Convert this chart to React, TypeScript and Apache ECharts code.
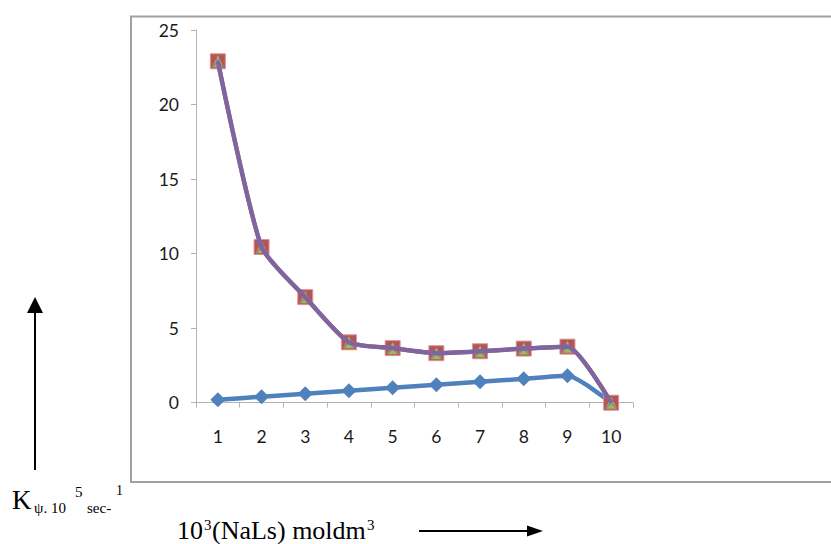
import React, { useEffect, useRef } from "react";
import * as echarts from "echarts";

const categories = ["1", "2", "3", "4", "5", "6", "7", "8", "9", "10"];
const seriesBlue = [0.2, 0.4, 0.6, 0.8, 1.0, 1.2, 1.4, 1.6, 1.8, 0];
const seriesRed = [22.9, 10.45, 7.08, 4.05, 3.66, 3.32, 3.45, 3.63, 3.76, 0];
const seriesGreen = [22.9, 10.45, 7.08, 4.05, 3.66, 3.32, 3.45, 3.63, 3.76, 0];
const seriesPurple = [22.9, 10.45, 7.08, 4.05, 3.66, 3.32, 3.45, 3.63, 3.76, 0];
const yTicks = [0, 5, 10, 15, 20, 25];

const xMarker =
  "path://M0,0 L2,0 L10,8 L18,0 L20,0 L20,2 L12,10 L20,18 L20,20 L18,20 L10,12 L2,20 L0,20 L0,18 L8,10 L0,2 Z";

export default function App() {
  const ref = useRef<HTMLDivElement>(null);
  useEffect(() => {
    if (!ref.current) return;
    const chart = echarts.init(ref.current, undefined, { renderer: "svg" });
    const serif = "Liberation Serif, Times New Roman, serif";
    const txt = (text: string, x: number, y: number, size: number) => ({
      type: "text",
      x,
      y,
      style: {
        text,
        font: `${size}px ${serif}`,
        fill: "#000",
        verticalAlign: "middle",
        align: "left",
      },
    });
    chart.setOption({
      animation: false,
      backgroundColor: "#fff",
      grid: { left: 196, top: 30, width: 437, height: 372.7, containLabel: false },
      xAxis: {
        type: "category",
        data: categories,
        boundaryGap: true,
        axisLine: { lineStyle: { color: "#b3b3b3", width: 1 } },
        axisTick: { show: true, length: 5, lineStyle: { color: "#b3b3b3" } },
        axisLabel: {
          color: "#1a1a1a",
          fontFamily: "Lato, sans-serif",
          fontSize: 17.5,
          margin: 25,
        },
        splitLine: { show: false },
      },
      yAxis: {
        type: "value",
        min: yTicks[0],
        max: yTicks[yTicks.length - 1],
        interval: 5,
        axisLine: { show: true, lineStyle: { color: "#b3b3b3", width: 1 } },
        axisTick: { show: true, length: 5, lineStyle: { color: "#b3b3b3" } },
        axisLabel: {
          color: "#1a1a1a",
          fontFamily: "Lato, sans-serif",
          fontSize: 17.5,
          margin: 17,
        },
        splitLine: { show: false },
      },
      series: [
        {
          type: "line",
          data: seriesBlue,
          smooth: 0.2,
          symbol: "diamond",
          symbolSize: 15,
          lineStyle: { color: "#4F81BD", width: 4.5 },
          itemStyle: { color: "#4F81BD" },
          z: 2,
        },
        {
          type: "line",
          data: seriesRed,
          smooth: 0.2,
          symbol: "rect",
          symbolSize: 15,
          lineStyle: { color: "#C0504D", width: 4 },
          itemStyle: { color: "#C0504D", borderColor: "#d99694", borderWidth: 1 },
          z: 3,
        },
        {
          type: "line",
          data: seriesGreen,
          smooth: 0.2,
          symbol: "triangle",
          symbolSize: 12,
          lineStyle: { color: "#9BBB59", width: 4 },
          itemStyle: { color: "#9BBB59" },
          z: 4,
        },
        {
          type: "line",
          data: seriesPurple,
          smooth: 0.2,
          symbol: xMarker,
          symbolSize: 13,
          lineStyle: { color: "#8064A2", width: 4.5 },
          itemStyle: { color: "rgba(128,100,162,0.55)" },
          z: 5,
        },
      ],
      graphic: [
        {
          type: "rect",
          shape: { x: 131, y: 16.5, width: 720, height: 465.5 },
          style: { fill: "none", stroke: "#a0a0a0", lineWidth: 2 },
          silent: true,
          z: -1,
        },
        {
          type: "line",
          shape: { x1: 35, y1: 470, x2: 35, y2: 310 },
          style: { stroke: "#000", lineWidth: 2 },
        },
        {
          type: "polygon",
          shape: { points: [[27, 313], [35, 297], [43, 313]] },
          style: { fill: "#000" },
        },
        {
          type: "line",
          shape: { x1: 419, y1: 531, x2: 530, y2: 531 },
          style: { stroke: "#000", lineWidth: 2 },
        },
        {
          type: "polygon",
          shape: { points: [[527, 525.5], [543, 531], [527, 536.5]] },
          style: { fill: "#000" },
        },
        txt("K", 12, 500, 27),
        txt("ψ. 10", 34, 508, 15),
        txt("5", 75, 492, 15),
        txt("sec-", 87, 508, 15),
        txt("1", 116, 490, 14),
        txt("10", 177, 530.5, 26),
        txt("3", 204, 525, 15),
        txt("(NaLs) moldm", 212, 530.5, 26),
        txt("3", 367, 525, 15),
      ],
    });
    return () => chart.dispose();
  }, []);
  return (
    <div
      ref={ref}
      style={{ position: "fixed", left: 0, top: 0, width: 831, height: 544 }}
    />
  );
}
